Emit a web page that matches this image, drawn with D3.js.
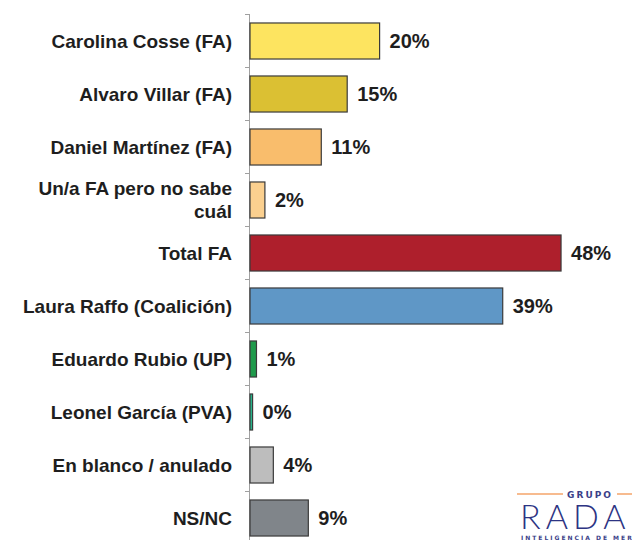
<!DOCTYPE html>
<html>
<head>
<meta charset="utf-8">
<script src="https://cdn.jsdelivr.net/npm/d3@7"></script>
<style>
  html, body { margin: 0; padding: 0; background: #fff; }
  svg { display: block; }
</style>
</head>
<body>
<svg id="chart" width="632" height="540"></svg>
<script>
// datos de la encuesta
const categories = [
  "Carolina Cosse (FA)",
  "Alvaro Villar (FA)",
  "Daniel Martínez (FA)",
  "Un/a FA pero no sabe|cuál",
  "Total FA",
  "Laura Raffo (Coalición)",
  "Eduardo Rubio (UP)",
  "Leonel García (PVA)",
  "En blanco / anulado",
  "NS/NC"
]
const values = [20, 15, 11, 2.3, 48, 39, 1, 0.4, 3.6, 9]
const barColors = ["#fde460", "#dbc033", "#f9bd6c", "#fbd08f", "#ae1f2c",
                   "#5f97c6", "#1f9a4b", "#2bb58c", "#bdbdbd", "#80858a"]

const svg = d3.select("#chart")

const axis_x = 250
const x = d3.scaleLinear().domain([0, 50]).range([axis_x, axis_x + 324])
const y = d3.scaleBand().domain(categories).range([14.5, 544.5])
  .paddingInner(0.32).paddingOuter(0.16)

const step = y.step()

// eje vertical y marcas
svg.append("line")
  .attr("x1", axis_x - 0.5).attr("x2", axis_x - 0.5)
  .attr("y1", 14.5).attr("y2", 540)
  .attr("stroke", "#a0a0a0").attr("stroke-width", 1)

svg.selectAll("line.tick")
  .data(d3.range(categories.length + 1))
  .join("line").attr("class", "tick")
  .attr("x1", axis_x - 5).attr("x2", axis_x)
  .attr("y1", d => 14.5 + d * step).attr("y2", d => 14.5 + d * step)
  .attr("stroke", "#a0a0a0").attr("stroke-width", 1)

// barras
svg.selectAll("rect.bar")
  .data(categories)
  .join("rect").attr("class", "bar")
  .attr("x", x(0))
  .attr("y", d => y(d))
  .attr("width", (d, i) => x(values[i]) - x(0))
  .attr("height", y.bandwidth())
  .attr("fill", (d, i) => barColors[i])
  .attr("stroke", "#3a3a3a").attr("stroke-width", 1.2)

// etiquetas de categoría
const catLabels = svg.selectAll("text.cat")
  .data(categories)
  .join("text").attr("class", "cat")
  .attr("x", 232)
  .attr("text-anchor", "end")
  .attr("font-family", "Liberation Sans, Arial, sans-serif")
  .attr("font-weight", "bold")
  .attr("font-size", "19px")
  .attr("fill", "#1e1e1e")

catLabels.each(function(d) {
  const lines = d.split("|")
  const cy = y(d) + y.bandwidth() / 2
  const lh = 23
  const t = d3.select(this)
  lines.forEach((ln, li) => {
    t.append("tspan")
      .attr("x", 232)
      .attr("y", cy + (li - (lines.length - 1) / 2) * lh)
      .attr("dy", "0.35em")
      .text(ln)
  })
})

// etiquetas de valor
svg.selectAll("text.val")
  .data(categories)
  .join("text").attr("class", "val")
  .attr("x", (d, i) => x(values[i]) + 10)
  .attr("y", d => y(d) + y.bandwidth() / 2)
  .attr("dy", "0.36em")
  .attr("font-family", "Liberation Sans, Arial, sans-serif")
  .attr("font-weight", "bold")
  .attr("font-size", "20px")
  .attr("fill", "#1e1e1e")
  .text((d, i) => d3.format(".0f")(values[i]) + "%")

// logo
const logo = svg.append("g")
logo.append("line").attr("x1", 517).attr("x2", 563).attr("y1", 494).attr("y2", 494)
  .attr("stroke", "#f4a46a").attr("stroke-width", 1.5)
logo.append("line").attr("x1", 617).attr("x2", 632).attr("y1", 494).attr("y2", 494)
  .attr("stroke", "#f4a46a").attr("stroke-width", 1.5)
logo.append("text").text("GRUPO")
  .attr("x", 590).attr("y", 498).attr("text-anchor", "middle")
  .attr("font-family", "DejaVu Sans, sans-serif").attr("font-weight", "bold")
  .attr("font-size", "9px").attr("letter-spacing", "2px").attr("fill", "#3a4088")
logo.append("text").text("RADAR")
  .attr("x", 520).attr("y", 529)
  .attr("font-family", "Lato, sans-serif").attr("font-weight", 300)
  .attr("font-size", "34px").attr("letter-spacing", "5px").attr("fill", "#2d3483")
logo.append("text").text("INTELIGENCIA DE MERCADO")
  .attr("x", 521).attr("y", 540)
  .attr("font-family", "DejaVu Sans, sans-serif").attr("font-weight", "bold")
  .attr("font-size", "6px").attr("letter-spacing", "2px").attr("fill", "#3a4088")
</script>
</body>
</html>
